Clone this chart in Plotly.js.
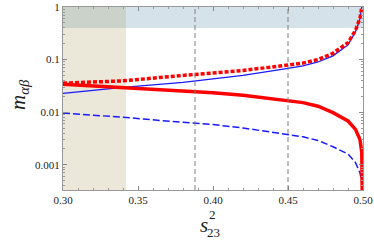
<!DOCTYPE html>
<html>
<head>
<meta charset="utf-8">
<script src="https://cdn.plot.ly/plotly-3.0.1.min.js"></script>
<style>html,body{margin:0;padding:0;background:#fff;}#chart{width:374px;height:240px;}</style>
</head>
<body>
<div id="chart"></div>
<script>
// s23^2 sample points
const s23sq = [0.30, 0.34, 0.38, 0.40, 0.42, 0.45, 0.46, 0.47, 0.48, 0.49, 0.495, 0.498, 0.4992, 0.5];
// red thick solid
const redSolid = [0.034, 0.0295, 0.026, 0.0235, 0.021, 0.0167, 0.0152, 0.013, 0.0098, 0.0068, 0.0047, 0.003, 0.0017, 0.00001];
// red thick dotted
const redDotted = [0.0356, 0.0394, 0.050, 0.055, 0.062, 0.079, 0.086, 0.100, 0.132, 0.21, 0.36, 0.62, 1.0, 3];
// blue thin solid
const blueSolid = [0.0227, 0.0295, 0.037, 0.043, 0.050, 0.068, 0.076, 0.090, 0.118, 0.19, 0.34, 0.60, 1.0, 3];
// blue dashed
const blueDashed = [0.0096, 0.0080, 0.0064, 0.0058, 0.0050, 0.0037, 0.0034, 0.0029, 0.0022, 0.0016, 0.0011, 0.0007, 0.00045, 0.00001];

const xTickVals = [0.30, 0.35, 0.40, 0.45, 0.50];
const xTickText = ["0.30", "0.35", "0.40", "0.45", "0.50"];
const yTickVals = [0.001, 0.01, 0.1, 1];
const yTickText = ["0.001", "0.01", "0.1", "1"];
const yMinorVals = [];
[0.0001, 0.001, 0.01, 0.1].forEach(d => { for (let k = 2; k <= 9; k++) yMinorVals.push(d * k); });

const beigeBand = [0.30, 0.342];   // excluded s23^2 region
const blueBand = [0.4, 1];         // excluded m region
const vLines = [0.388, 0.45];

const font = "Liberation Serif";

const traces = [
  {x: s23sq, y: blueDashed, mode: 'lines', line: {color: '#1a1aff', width: 1.5, dash: '7px,3px'}},
  {x: s23sq, y: blueSolid, mode: 'lines', line: {color: '#1a1aff', width: 1.3}},
  {x: s23sq, y: redSolid, mode: 'lines', line: {color: '#ff0000', width: 3.5}},
  {x: s23sq, y: redDotted, mode: 'lines', line: {color: '#ff0000', width: 3.5, dash: '4px,2px'}}
];

const shapes = [
  {type: 'rect', xref: 'x', yref: 'paper', x0: beigeBand[0], x1: beigeBand[1], y0: 0, y1: 1,
   fillcolor: '#ebe7d9', line: {width: 0}, layer: 'below'},
  {type: 'rect', xref: 'paper', yref: 'y', x0: 0, x1: 1, y0: blueBand[0], y1: blueBand[1],
   fillcolor: '#d6e2ea', line: {width: 0}, layer: 'below'},
  {type: 'rect', xref: 'x', yref: 'y', x0: beigeBand[0], x1: beigeBand[1], y0: blueBand[0], y1: blueBand[1],
   fillcolor: '#cbd2c9', line: {width: 0}, layer: 'below'}
];
vLines.forEach(v => shapes.push({type: 'line', xref: 'x', yref: 'paper', x0: v, x1: v, y0: 0, y1: 1,
  line: {color: '#808080', width: 1, dash: '5px,3px'}, layer: 'above'}));

const layout = {
  width: 374, height: 240,
  margin: {l: 63, r: 11, t: 7, b: 50},
  paper_bgcolor: '#fff', plot_bgcolor: '#fff',
  showlegend: false,
  font: {family: font, size: 11, color: '#222'},
  xaxis: {
    range: [0.3, 0.5], tickvals: xTickVals, ticktext: xTickText,
    ticks: 'inside', ticklen: 4, tickcolor: '#888', tickwidth: 1,
    showline: true, linecolor: '#999', linewidth: 1, mirror: 'ticks',
    showgrid: false, zeroline: false,
    tickfont: {family: font, size: 11, color: '#222'},
    minor: {dtick: 0.01, ticks: 'inside', ticklen: 2, tickcolor: '#999', showgrid: false}
  },
  yaxis: {
    type: 'log', range: [-3.48, 0.0], tickvals: yTickVals, ticktext: yTickText,
    ticks: 'inside', ticklen: 4, tickcolor: '#888', tickwidth: 1,
    showline: true, linecolor: '#999', linewidth: 1, mirror: 'ticks',
    showgrid: false, zeroline: false,
    tickfont: {family: font, size: 11, color: '#222'},
    minor: {tickvals: yMinorVals, ticks: 'inside', ticklen: 2, tickcolor: '#999', showgrid: false}
  },
  shapes: shapes,
  annotations: [
    {xref: 'paper', yref: 'paper', x: (204 - 63) / 300, y: (190 - 225) / 183, text: '<i>s</i>',
     showarrow: false, font: {family: font, size: 21, color: '#222'}, xanchor: 'center', yanchor: 'middle'},
    {xref: 'paper', yref: 'paper', x: (212 - 63) / 300, y: (190 - 214) / 183, text: '2',
     showarrow: false, font: {family: font, size: 13, color: '#222'}, xanchor: 'center', yanchor: 'middle'},
    {xref: 'paper', yref: 'paper', x: (213 - 63) / 300, y: (190 - 232) / 183, text: '23',
     showarrow: false, font: {family: font, size: 13, color: '#222'}, xanchor: 'center', yanchor: 'middle'},
    {xref: 'paper', yref: 'paper', x: (19 - 63) / 300, y: (190 - 95) / 183,
     text: '<i>m</i><sub><i>αβ</i></sub>', textangle: -90,
     showarrow: false, font: {family: font, size: 21, color: '#222'}, xanchor: 'center', yanchor: 'middle'}
  ]
};

Plotly.newPlot('chart', traces, layout, {staticPlot: true, displayModeBar: false});
</script>
</body>
</html>
